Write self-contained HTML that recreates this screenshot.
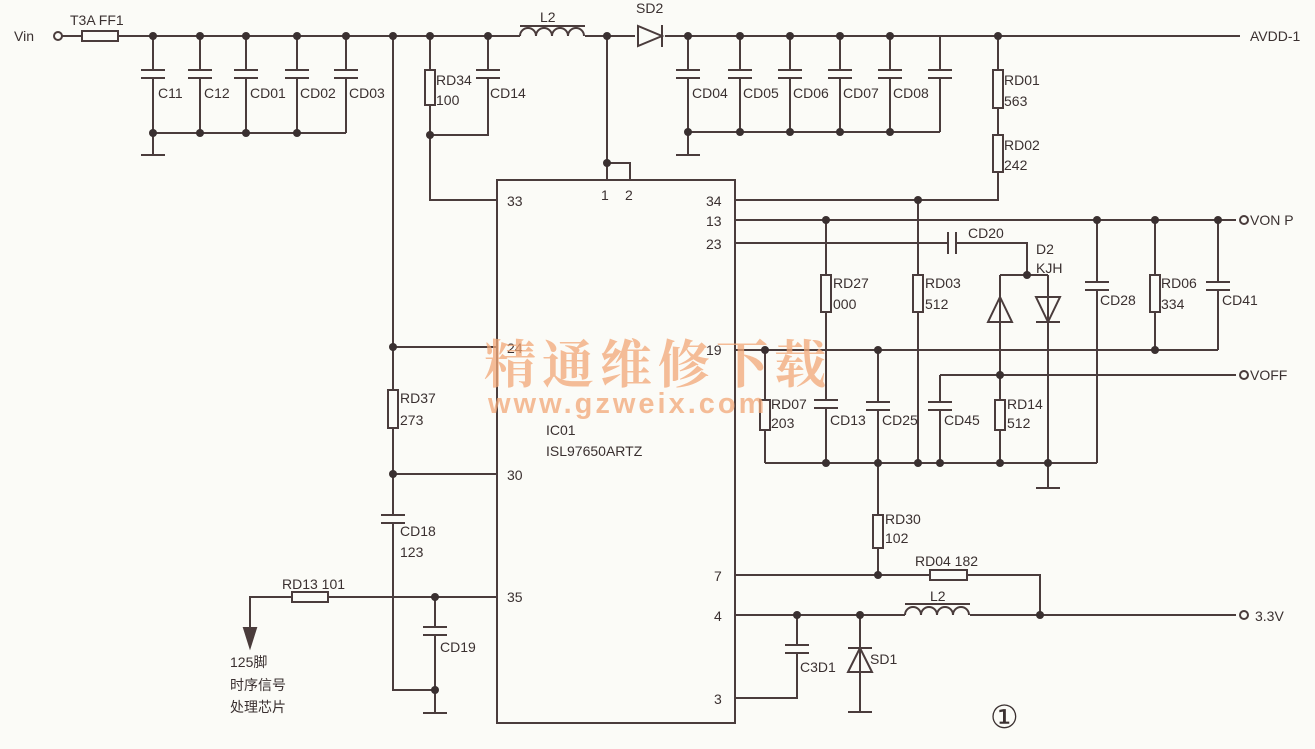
<!DOCTYPE html>
<html><head><meta charset="utf-8"><style>
body{margin:0;background:#fbfbf7;}
svg{display:block}
text{font-family:"Liberation Sans Narrow","Liberation Sans","Noto Sans CJK SC",sans-serif;fill:#3a3030;font-size:14px}
</style></head><body>
<svg width="1315" height="749" viewBox="0 0 1315 749" xmlns="http://www.w3.org/2000/svg">
<rect width="1315" height="749" fill="#fbfbf7"/>
<g stroke="#4a3c3c" stroke-width="2" fill="none">
<path d="M62 36H82M118 36H520M585 36H635M665 36H1240"/>
<circle cx="58" cy="36" r="4" fill="#fbfbf7"/>
<rect x="82" y="31" width="36" height="10"/>
<path d="M153 36V70M153 78V155M141 155H165 M200 36V70M200 78V133 M246 36V70M246 78V133 M297 36V70M297 78V133 M346 36V70M346 78V133 M153 133H346"/>
<path d="M141 70H165M141 78H165 M188 70H212M188 78H212 M234 70H258M234 78H258 M285 70H309M285 78H309 M334 70H358M334 78H358"/>
<path d="M393 36V390M393 428V515M393 523V690H435 M381 515H405M381 523H405 M393 347H497 M393 474H497"/>
<rect x="388" y="390" width="10" height="38"/>
<path d="M430 36V70M430 105V200H497 M430 135H488V78M488 36V70M476 70H500M476 78H500"/>
<rect x="425" y="70" width="10" height="35"/>
<path d="M520 36a8 8 0 0 1 16 0a8 8 0 0 1 16 0a8 8 0 0 1 16 0a8 8 0 0 1 16 0"/>
<path d="M520 26H585"/>
<path d="M638 26V46L662 36Z M662 25V47"/>
<path d="M607 36V180M607 163H630V180"/>
<rect x="497" y="180" width="238" height="543"/>
<path d="M688 36V70M688 78V155M676 155H700 M740 36V70M740 78V132 M790 36V70M790 78V132 M840 36V70M840 78V132 M890 36V70M890 78V132 M940 36V70M940 78V132 M688 132H940"/>
<path d="M676 70H700M676 78H700 M728 70H752M728 78H752 M778 70H802M778 78H802 M828 70H852M828 78H852 M878 70H902M878 78H902 M928 70H952M928 78H952"/>
<path d="M998 36V70M998 108V135M998 172V200H735"/>
<rect x="993" y="70" width="10" height="38"/><rect x="993" y="135" width="10" height="37"/>
<path d="M735 220H1236"/>
<circle cx="1244" cy="220" r="4" fill="#fbfbf7"/>
<path d="M735 243H948M956 243H1027V275M1000 275H1048 M948 232V254M956 232V254"/>
<path d="M826 220V275M826 312V400M826 408V463"/>
<rect x="821" y="275" width="10" height="37"/>
<path d="M814 400H838M814 408H838"/>
<path d="M918 200V275M918 312V463"/>
<rect x="913" y="275" width="10" height="37"/>
<path d="M1000 275V463 M988 322H1012M1000 297L988 322H1012Z"/>
<path d="M1048 275V488M1036 297H1060L1048 322Z M1036 322H1060 M1036 488H1060"/>
<path d="M1097 220V282M1097 290V463M1085 282H1109M1085 290H1109"/>
<path d="M1155 220V275M1155 312V350"/>
<rect x="1150" y="275" width="10" height="37"/>
<path d="M1218 220V282M1218 290V350M1206 282H1230M1206 290H1230"/>
<path d="M735 350H1218"/>
<path d="M765 350V400M765 430V463"/>
<rect x="760" y="400" width="10" height="30"/>
<path d="M878 350V402M878 410V515M866 402H890M866 410H890"/>
<path d="M940 375H1236M940 375V402M940 410V463M928 402H952M928 410H952"/>
<circle cx="1244" cy="375" r="4" fill="#fbfbf7"/>
<rect x="995" y="400" width="10" height="30" fill="#fbfbf7"/>
<path d="M765 463H1097"/>
<path d="M878 548V575"/>
<rect x="873" y="515" width="10" height="33"/>
<path d="M735 575H930M967 575H1040V615"/>
<rect x="930" y="570" width="37" height="10"/>
<path d="M735 615H905M970 615H1236"/>
<circle cx="1244" cy="615" r="4" fill="#fbfbf7"/>
<path d="M905 615a8 8 0 0 1 16 0a8 8 0 0 1 16 0a8 8 0 0 1 16 0a8 8 0 0 1 16 0 M905 604H970"/>
<path d="M797 615V645M797 653V698H735 M785 645H809M785 653H809"/>
<path d="M860 615V712M848 712H872 M848 648H872 M860 648L848 672H872Z"/>
<path d="M497 597H328M292 597H250V630"/>
<rect x="292" y="592" width="36" height="10"/>
<path d="M244 628L250 647L256 628Z" fill="#4a3c3c"/>
<path d="M435 597V627M435 635V713M423 627H447M423 635H447M423 713H447"/>
</g>
<g fill="#3a3030">
<circle cx="153" cy="36" r="4"/><circle cx="200" cy="36" r="4"/><circle cx="246" cy="36" r="4"/><circle cx="297" cy="36" r="4"/><circle cx="346" cy="36" r="4"/><circle cx="393" cy="36" r="4"/><circle cx="430" cy="36" r="4"/><circle cx="488" cy="36" r="4"/><circle cx="607" cy="36" r="4"/>
<circle cx="153" cy="133" r="4"/><circle cx="200" cy="133" r="4"/><circle cx="246" cy="133" r="4"/><circle cx="297" cy="133" r="4"/><circle cx="430" cy="135" r="4"/><circle cx="607" cy="163" r="4"/>
<circle cx="688" cy="36" r="4"/><circle cx="740" cy="36" r="4"/><circle cx="790" cy="36" r="4"/><circle cx="840" cy="36" r="4"/><circle cx="890" cy="36" r="4"/><circle cx="998" cy="36" r="4"/>
<circle cx="688" cy="132" r="4"/><circle cx="740" cy="132" r="4"/><circle cx="790" cy="132" r="4"/><circle cx="840" cy="132" r="4"/><circle cx="890" cy="132" r="4"/>
<circle cx="918" cy="200" r="4"/><circle cx="826" cy="220" r="4"/><circle cx="1097" cy="220" r="4"/><circle cx="1155" cy="220" r="4"/><circle cx="1218" cy="220" r="4"/>
<circle cx="1027" cy="275" r="4"/><circle cx="765" cy="350" r="4"/><circle cx="878" cy="350" r="4"/><circle cx="1155" cy="350" r="4"/><circle cx="1000" cy="375" r="4"/>
<circle cx="393" cy="347" r="4"/><circle cx="393" cy="474" r="4"/>
<circle cx="826" cy="463" r="4"/><circle cx="878" cy="463" r="4"/><circle cx="918" cy="463" r="4"/><circle cx="940" cy="463" r="4"/><circle cx="1000" cy="463" r="4"/><circle cx="1048" cy="463" r="4"/>
<circle cx="878" cy="575" r="4"/><circle cx="1040" cy="615" r="4"/><circle cx="797" cy="615" r="4"/><circle cx="860" cy="615" r="4"/>
<circle cx="435" cy="597" r="4"/><circle cx="435" cy="690" r="4"/>
</g>
<text x="14" y="41">Vin</text><text x="70" y="25">T3A FF1</text>
<text x="158" y="98">C11</text><text x="204" y="98">C12</text><text x="250" y="98">CD01</text><text x="300" y="98">CD02</text><text x="349" y="98">CD03</text>
<text x="436" y="85">RD34</text><text x="436" y="105">100</text><text x="490" y="98">CD14</text>
<text x="540" y="22">L2</text><text x="636" y="13">SD2</text><text x="1250" y="41">AVDD-1</text>
<text x="692" y="98">CD04</text><text x="743" y="98">CD05</text><text x="793" y="98">CD06</text><text x="843" y="98">CD07</text><text x="893" y="98">CD08</text>
<text x="1004" y="85">RD01</text><text x="1004" y="106">563</text><text x="1004" y="150">RD02</text><text x="1004" y="170">242</text>
<text x="507" y="206">33</text><text x="601" y="200">1</text><text x="625" y="200">2</text>
<text x="706" y="206">34</text><text x="706" y="226">13</text><text x="706" y="249">23</text><text x="706" y="355">19</text><text x="507" y="353">24</text><text x="507" y="480">30</text><text x="507" y="602">35</text>
<text x="714" y="581">7</text><text x="714" y="621">4</text><text x="714" y="704">3</text>
<text x="546" y="435">IC01</text><text x="546" y="456">ISL97650ARTZ</text>
<text x="968" y="238">CD20</text><text x="1036" y="254">D2</text><text x="1036" y="273">KJH</text>
<text x="1250" y="225">VON P</text><text x="1250" y="380">VOFF</text>
<text x="833" y="288">RD27</text><text x="833" y="309">000</text><text x="925" y="288">RD03</text><text x="925" y="309">512</text>
<text x="1100" y="305">CD28</text><text x="1161" y="288">RD06</text><text x="1161" y="309">334</text><text x="1222" y="305">CD41</text>
<text x="771" y="409">RD07</text><text x="771" y="428">203</text><text x="830" y="425">CD13</text><text x="882" y="425">CD25</text><text x="944" y="425">CD45</text>
<text x="1007" y="409">RD14</text><text x="1007" y="428">512</text>
<text x="400" y="403">RD37</text><text x="400" y="425">273</text><text x="400" y="536">CD18</text><text x="400" y="557">123</text>
<text x="885" y="524">RD30</text><text x="885" y="543">102</text><text x="915" y="566">RD04 182</text><text x="930" y="601">L2</text>
<text x="800" y="672">C3D1</text><text x="870" y="664">SD1</text><text x="440" y="652">CD19</text>
<text x="282" y="589">RD13 101</text>
<text x="230" y="667">125脚</text><text x="230" y="690">时序信号</text><text x="230" y="712">处理芯片</text>
<text x="1255" y="621">3.3V</text>
<text x="990" y="728" style="font-family:'Liberation Serif',serif;font-size:32px">①</text>
<g opacity="0.75">
<text x="484" y="383" style="font-family:'Noto Serif CJK SC','Noto Sans CJK SC',sans-serif;font-size:52px;font-weight:bold;fill:#f2a878;letter-spacing:6px">精通维修下载</text>
<text x="488" y="413" style="font-family:'Liberation Sans',sans-serif;font-size:29px;font-weight:bold;fill:#f2a878;letter-spacing:3px">www.gzweix.com</text>
</g>
</svg>
</body></html>
